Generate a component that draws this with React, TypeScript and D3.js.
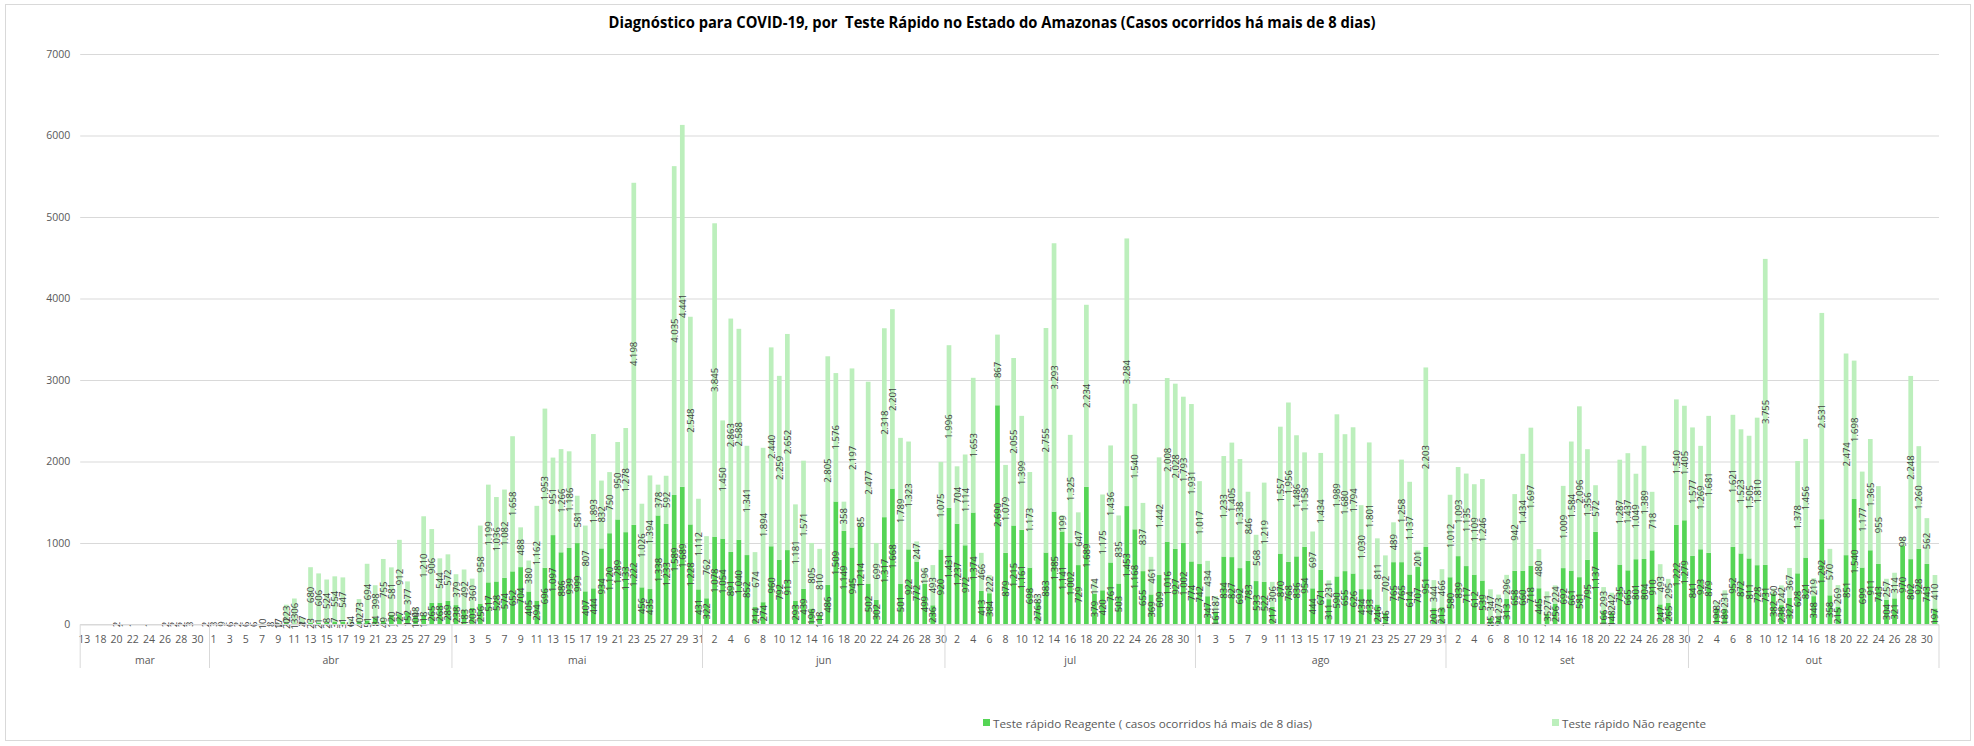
import { useEffect, useRef } from "react";
import * as d3 from "d3";

// categories
const monthNames = ["mar", "abr", "mai", "jun", "jul", "ago", "set", "out"];
const marDays = [13, 17, 18, 19, 20, 21, 22, 23, 24, 25, 26, 27, 28, 29, 30, 31];
const otherMonthLengths = [30, 31, 30, 31, 31, 30, 31]; // abr..out

// Teste rápido Reagente (casos ocorridos há mais de 8 dias)
const reagenteMar = [0, 0, 0, 0, 0, 0, 0, 0, 0, 0, 0, 0, 0, 0, 0, 0];
const reagenteAbr = [0, 0, 0, 0, 0, 0, 0, 0, 2, 20, 13, 4, 23, 21, 28, 37, 31, 6, 40, 51, 84, 49, 120, 127, 152, 104, 118, 265, 268, 289];
const reagenteMai = [238, 183, 203, 256, 517, 528, 574, 652, 704, 405, 294, 696, 1097, 886, 939, 999, 407, 444, 934, 1120, 1289, 1133, 1222, 456, 435, 1338, 1233, 1589, 1689, 1228, 431];
const reagenteJun = [322, 1078, 1054, 891, 1040, 852, 214, 274, 960, 792, 913, 293, 439, 196, 118, 486, 1509, 1149, 945, 1214, 502, 302, 1317, 1668, 501, 922, 772, 499, 236, 920];
const reagenteJul = [1431, 1237, 972, 1374, 413, 384, 2690, 879, 1215, 1161, 698, 276, 883, 1385, 1141, 1002, 729, 1689, 379, 420, 761, 503, 1453, 1168, 655, 369, 609, 1016, 927, 1002, 774];
const reagenteAgo = [742, 347, 161, 834, 827, 692, 783, 533, 522, 217, 870, 768, 836, 954, 444, 671, 311, 590, 655, 626, 434, 433, 246, 146, 765, 765, 614, 707, 951, 201, 213];
const reagenteSet = [580, 839, 717, 612, 539, 85, 94, 313, 658, 660, 718, 445, 135, 256, 692, 661, 581, 795, 1137, 166, 148, 735, 665, 801, 804, 910, 247, 265, 1222, 1279];
const reagenteOut = [841, 923, 879, 199, 189, 952, 872, 811, 728, 731, 382, 238, 327, 628, 821, 348, 1292, 358, 215, 851, 1540, 699, 911, 743, 304, 321, 970, 802, 928, 743, 197];

// Teste rápido Não reagente
const naoReagenteMar = [0, 0, 0, 0, 2, 1, 1, 0, 1, 0, 2, 2, 2, 3, 0, 2];
const naoReagenteAbr = [3, 9, 6, 2, 6, 6, 10, 8, 17, 223, 306, 77, 680, 606, 524, 554, 547, 64, 273, 694, 398, 755, 581, 912, 377, 98, 1210, 906, 544, 572];
const naoReagenteMai = [379, 492, 360, 958, 1199, 1036, 1082, 1658, 488, 380, 1162, 1953, 951, 1266, 1186, 581, 807, 1893, 832, 750, 950, 1278, 4198, 1026, 1394, 378, 592, 4035, 4441, 2548, 1112];
const naoReagenteJun = [762, 3845, 1450, 2863, 2588, 1341, 674, 1894, 2440, 2259, 2652, 1181, 1571, 805, 810, 2805, 1576, 358, 2197, 85, 2477, 699, 2318, 2201, 1789, 1323, 247, 196, 493, 1075];
const naoReagenteJul = [1996, 704, 1114, 1653, 466, 222, 867, 1079, 2055, 1399, 1173, 83, 2755, 3293, 199, 1325, 647, 2234, 174, 1175, 1436, 835, 3284, 1540, 837, 461, 1442, 2008, 2028, 1793, 1931];
const naoReagenteAgo = [1017, 434, 187, 1233, 1405, 1338, 846, 568, 1219, 306, 1557, 1956, 1486, 1158, 697, 1434, 231, 1989, 1680, 1794, 1030, 1801, 811, 702, 489, 1258, 1137, 201, 2203, 344, 466];
const naoReagenteSet = [1012, 1093, 1135, 1109, 1246, 347, 273, 296, 942, 1434, 1697, 480, 271, 224, 1009, 1584, 2096, 1356, 572, 293, 242, 1287, 1437, 1049, 1389, 718, 493, 295, 1540, 1405];
const naoReagenteOut = [1577, 1269, 1681, 82, 231, 1621, 1523, 1505, 1810, 3755, 60, 242, 367, 1378, 1456, 219, 2531, 570, 269, 2474, 1698, 1177, 1365, 955, 257, 314, 98, 2248, 1260, 562, 410];

const yTicks = [0, 1000, 2000, 3000, 4000, 5000, 6000, 7000];

const title = "Diagnóstico para COVID-19, por  Teste Rápido no Estado do Amazonas (Casos ocorridos há mais de 8 dias)";
const legendReagente = "Teste rápido Reagente ( casos ocorridos há mais de 8 dias)";
const legendNaoReagente = "Teste rápido Não reagente";

const darkGreen = "#55d555";
const lightGreen = "#bcefbc";
const font = "'Open Sans', 'Liberation Sans', sans-serif";

type Row = { reagente: number; naoReagente: number };

const App = () => {
    const svgRef = useRef<SVGSVGElement>(null);

    useEffect(() => {
        if (!svgRef.current) return;
        const svg = d3.select(svgRef.current);
        svg.selectAll("*").remove();

        const monthDays = [marDays, ...otherMonthLengths.map((len) => d3.range(1, len + 1))];
        const days = monthDays.flat();
        const monthStarts: number[] = [];
        let acc = 0;
        monthDays.forEach((m) => {
            monthStarts.push(acc);
            acc += m.length;
        });
        monthStarts.push(acc);

        const reagente = [reagenteMar, reagenteAbr, reagenteMai, reagenteJun, reagenteJul, reagenteAgo, reagenteSet, reagenteOut].flat();
        const naoReagente = [naoReagenteMar, naoReagenteAbr, naoReagenteMai, naoReagenteJun, naoReagenteJul, naoReagenteAgo, naoReagenteSet, naoReagenteOut].flat();
        const rows: Row[] = days.map((_, i) => ({ reagente: reagente[i] ?? 0, naoReagente: naoReagente[i] ?? 0 }));

        const left = 80.2;
        const right = 1939;
        const x = d3
            .scaleBand<number>()
            .domain(d3.range(days.length))
            .range([left, right])
            .paddingInner(0.42)
            .paddingOuter(0.21);
        const y = d3.scaleLinear().domain([0, 7000]).range([624.5, 54]);
        const step = x.step();
        const edge = (i: number) => left + i * step;

        const fmt = d3.formatLocale({ decimal: ",", thousands: ".", grouping: [3], currency: ["R$", ""] }).format(",d");

        // frame
        svg.append("rect")
            .attr("x", 5.5).attr("y", 4.5).attr("width", 1965).attr("height", 736)
            .attr("fill", "#fff").attr("stroke", "#d9d9d9");

        // title
        svg.append("text")
            .attr("x", 992).attr("y", 28)
            .attr("text-anchor", "middle")
            .attr("font-family", font).attr("font-weight", "bold").attr("font-size", 16)
            .attr("textLength", 767).attr("lengthAdjust", "spacingAndGlyphs")
            .attr("fill", "#000")
            .style("white-space", "pre")
            .text(title);

        // y axis + gridlines
        svg.append("g")
            .attr("transform", `translate(${left},0)`)
            .call(
                d3.axisLeft(y)
                    .tickValues(yTicks)
                    .tickSize(-(right - left))
                    .tickPadding(10)
                    .tickFormat((d) => String(d))
            )
            .call((g) => g.select(".domain").remove())
            .call((g) => g.selectAll(".tick line").attr("stroke", "#d9d9d9"))
            .call((g) =>
                g.selectAll(".tick text")
                    .attr("fill", "#595959")
                    .attr("font-family", font)
                    .attr("font-size", 10.5)
            );

        // stacked bars
        const stack = d3.stack<Row>().keys(["reagente", "naoReagente"]);
        const series = stack(rows);
        const colors = [darkGreen, lightGreen];

        series.forEach((s, si) => {
            svg.append("g")
                .attr("fill", colors[si])
                .selectAll("rect")
                .data(s.map((d, i) => ({ d, i })))
                .join("rect")
                .attr("x", ({ i }) => x(i) as number)
                .attr("width", x.bandwidth())
                .attr("y", ({ d }) => y(d[1]))
                .attr("height", ({ d }) => Math.max(0, y(d[0]) - y(d[1])));
        });

        // data labels (centered in segment, rotated)
        series.forEach((s) => {
            svg.append("g")
                .attr("font-family", font)
                .attr("font-size", 9.5)
                .attr("fill", "#404040")
                .selectAll("text")
                .data(s.map((d, i) => ({ d, i })).filter(({ d }) => d[1] - d[0] > 0))
                .join("text")
                .attr("transform", ({ d, i }) => {
                    const cx = (x(i) as number) + x.bandwidth() / 2;
                    const cy = (y(d[0]) + y(d[1])) / 2;
                    return `translate(${cx},${cy}) rotate(-90)`;
                })
                .attr("text-anchor", "middle")
                .attr("dominant-baseline", "central")
                .text(({ d }) => fmt(d[1] - d[0]));
        });

        // x axis line
        svg.append("line")
            .attr("x1", left).attr("x2", right)
            .attr("y1", y(0)).attr("y2", y(0))
            .attr("stroke", "#d9d9d9");

        // day labels (every other category)
        svg.append("g")
            .attr("font-family", font)
            .attr("font-size", 10.5)
            .attr("fill", "#595959")
            .attr("text-anchor", "middle")
            .selectAll("text")
            .data(days.map((d, i) => ({ d, i })).filter(({ i }) => i % 2 === 0))
            .join("text")
            .attr("x", ({ i }) => (x(i) as number) + x.bandwidth() / 2)
            .attr("y", 639)
            .attr("dominant-baseline", "central")
            .text(({ d }) => String(d));

        // month separators
        svg.append("g")
            .attr("stroke", "#d9d9d9")
            .selectAll("line")
            .data(monthStarts)
            .join("line")
            .attr("x1", (i) => edge(i)).attr("x2", (i) => edge(i))
            .attr("y1", y(0)).attr("y2", 668);

        // month labels
        svg.append("g")
            .attr("font-family", font)
            .attr("font-size", 10.5)
            .attr("fill", "#595959")
            .attr("text-anchor", "middle")
            .selectAll("text")
            .data(monthNames)
            .join("text")
            .attr("x", (_, k) => (edge(monthStarts[k]) + edge(monthStarts[k + 1])) / 2)
            .attr("y", 660)
            .attr("dominant-baseline", "central")
            .text((m) => m);

        // legend
        const legend = svg.append("g").attr("font-family", font).attr("font-size", 11).attr("fill", "#595959");
        const items = [
            { label: legendReagente, color: darkGreen, x0: 983, len: 319 },
            { label: legendNaoReagente, color: lightGreen, x0: 1552, len: 144 },
        ];
        items.forEach((it) => {
            legend.append("rect")
                .attr("x", it.x0).attr("y", 719).attr("width", 7).attr("height", 7)
                .attr("fill", it.color);
            legend.append("text")
                .attr("x", it.x0 + 10).attr("y", 723)
                .attr("dominant-baseline", "central")
                .attr("textLength", it.len).attr("lengthAdjust", "spacingAndGlyphs")
                .text(it.label);
        });
    }, []);

    return (
        <svg
            ref={svgRef}
            width={1974}
            height={746}
            style={{ position: "absolute", left: 0, top: 0, background: "#fff" }}
        />
    );
};

export default App;
